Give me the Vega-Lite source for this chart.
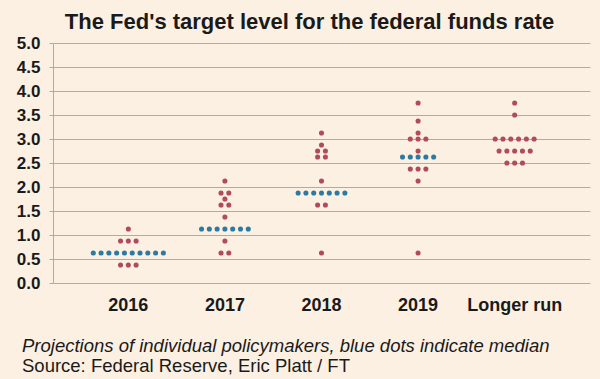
{
  "$schema": "https://vega.github.io/schema/vega-lite/v6.json",
  "autosize": "none",
  "width": 537,
  "height": 240,
  "padding": {"left": 53, "top": 43, "right": 10, "bottom": 96},
  "background": "#fcf0e2",
  "config": {
    "view": {"stroke": null},
    "font": "Liberation Sans",
    "axis": {"labelColor": "#1a1a1a", "titleColor": "#1a1a1a"},
    "title": {"color": "#1a1a1a", "subtitleColor": "#1a1a1a"}
  },
  "title": {
    "text": "Projections of individual policymakers, blue dots indicate median",
    "subtitle": "Source: Federal Reserve, Eric Platt / FT",
    "orient": "bottom",
    "anchor": "start",
    "frame": "group",
    "dx": -31,
    "offset": 23,
    "fontSize": 18.5,
    "fontStyle": "italic",
    "fontWeight": "normal",
    "subtitleFontSize": 18.5,
    "subtitleFontStyle": "normal",
    "subtitlePadding": 1
  },
  "data": {
    "values": [
      {"period": "2016", "rate": 1.125, "type": "Individual"},
      {"period": "2016", "rate": 0.875, "type": "Individual"},
      {"period": "2016", "rate": 0.875, "type": "Individual"},
      {"period": "2016", "rate": 0.875, "type": "Individual"},
      {"period": "2016", "rate": 0.625, "type": "Median"},
      {"period": "2016", "rate": 0.625, "type": "Median"},
      {"period": "2016", "rate": 0.625, "type": "Median"},
      {"period": "2016", "rate": 0.625, "type": "Median"},
      {"period": "2016", "rate": 0.625, "type": "Median"},
      {"period": "2016", "rate": 0.625, "type": "Median"},
      {"period": "2016", "rate": 0.625, "type": "Median"},
      {"period": "2016", "rate": 0.625, "type": "Median"},
      {"period": "2016", "rate": 0.625, "type": "Median"},
      {"period": "2016", "rate": 0.625, "type": "Median"},
      {"period": "2016", "rate": 0.375, "type": "Individual"},
      {"period": "2016", "rate": 0.375, "type": "Individual"},
      {"period": "2016", "rate": 0.375, "type": "Individual"},

      {"period": "2017", "rate": 2.125, "type": "Individual"},
      {"period": "2017", "rate": 1.875, "type": "Individual"},
      {"period": "2017", "rate": 1.875, "type": "Individual"},
      {"period": "2017", "rate": 1.75, "type": "Individual"},
      {"period": "2017", "rate": 1.625, "type": "Individual"},
      {"period": "2017", "rate": 1.625, "type": "Individual"},
      {"period": "2017", "rate": 1.375, "type": "Individual"},
      {"period": "2017", "rate": 1.125, "type": "Median"},
      {"period": "2017", "rate": 1.125, "type": "Median"},
      {"period": "2017", "rate": 1.125, "type": "Median"},
      {"period": "2017", "rate": 1.125, "type": "Median"},
      {"period": "2017", "rate": 1.125, "type": "Median"},
      {"period": "2017", "rate": 1.125, "type": "Median"},
      {"period": "2017", "rate": 1.125, "type": "Median"},
      {"period": "2017", "rate": 0.875, "type": "Individual"},
      {"period": "2017", "rate": 0.625, "type": "Individual"},
      {"period": "2017", "rate": 0.625, "type": "Individual"},

      {"period": "2018", "rate": 3.125, "type": "Individual"},
      {"period": "2018", "rate": 2.875, "type": "Individual"},
      {"period": "2018", "rate": 2.75, "type": "Individual"},
      {"period": "2018", "rate": 2.75, "type": "Individual"},
      {"period": "2018", "rate": 2.625, "type": "Individual"},
      {"period": "2018", "rate": 2.625, "type": "Individual"},
      {"period": "2018", "rate": 2.125, "type": "Individual"},
      {"period": "2018", "rate": 1.875, "type": "Median"},
      {"period": "2018", "rate": 1.875, "type": "Median"},
      {"period": "2018", "rate": 1.875, "type": "Median"},
      {"period": "2018", "rate": 1.875, "type": "Median"},
      {"period": "2018", "rate": 1.875, "type": "Median"},
      {"period": "2018", "rate": 1.875, "type": "Median"},
      {"period": "2018", "rate": 1.875, "type": "Median"},
      {"period": "2018", "rate": 1.625, "type": "Individual"},
      {"period": "2018", "rate": 1.625, "type": "Individual"},
      {"period": "2018", "rate": 0.625, "type": "Individual"},

      {"period": "2019", "rate": 3.75, "type": "Individual"},
      {"period": "2019", "rate": 3.375, "type": "Individual"},
      {"period": "2019", "rate": 3.125, "type": "Individual"},
      {"period": "2019", "rate": 3.0, "type": "Individual"},
      {"period": "2019", "rate": 3.0, "type": "Individual"},
      {"period": "2019", "rate": 3.0, "type": "Individual"},
      {"period": "2019", "rate": 2.75, "type": "Individual"},
      {"period": "2019", "rate": 2.625, "type": "Median"},
      {"period": "2019", "rate": 2.625, "type": "Median"},
      {"period": "2019", "rate": 2.625, "type": "Median"},
      {"period": "2019", "rate": 2.625, "type": "Median"},
      {"period": "2019", "rate": 2.625, "type": "Median"},
      {"period": "2019", "rate": 2.375, "type": "Individual"},
      {"period": "2019", "rate": 2.375, "type": "Individual"},
      {"period": "2019", "rate": 2.375, "type": "Individual"},
      {"period": "2019", "rate": 2.125, "type": "Individual"},
      {"period": "2019", "rate": 0.625, "type": "Individual"},

      {"period": "Longer run", "rate": 3.75, "type": "Individual"},
      {"period": "Longer run", "rate": 3.5, "type": "Individual"},
      {"period": "Longer run", "rate": 3.0, "type": "Individual"},
      {"period": "Longer run", "rate": 3.0, "type": "Individual"},
      {"period": "Longer run", "rate": 3.0, "type": "Individual"},
      {"period": "Longer run", "rate": 3.0, "type": "Individual"},
      {"period": "Longer run", "rate": 3.0, "type": "Individual"},
      {"period": "Longer run", "rate": 3.0, "type": "Individual"},
      {"period": "Longer run", "rate": 2.75, "type": "Individual"},
      {"period": "Longer run", "rate": 2.75, "type": "Individual"},
      {"period": "Longer run", "rate": 2.75, "type": "Individual"},
      {"period": "Longer run", "rate": 2.75, "type": "Individual"},
      {"period": "Longer run", "rate": 2.75, "type": "Individual"},
      {"period": "Longer run", "rate": 2.5, "type": "Individual"},
      {"period": "Longer run", "rate": 2.5, "type": "Individual"},
      {"period": "Longer run", "rate": 2.5, "type": "Individual"}
    ]
  },
  "transform": [
    {"window": [{"op": "row_number", "as": "idx"}], "groupby": ["period", "rate"]},
    {"joinaggregate": [{"op": "count", "as": "n"}], "groupby": ["period", "rate"]},
    {"calculate": "datum.idx - (datum.n + 1) / 2", "as": "off"}
  ],
  "encoding": {
    "x": {
      "field": "period",
      "type": "nominal",
      "scale": {"paddingInner": 0, "paddingOuter": 0.28}
    },
    "xOffset": {
      "field": "off",
      "type": "quantitative",
      "scale": {"domain": [-6.2, 6.2]}
    },
    "y": {
      "field": "rate",
      "type": "quantitative",
      "scale": {"domain": [0, 5], "nice": false, "zero": true},
      "axis": {
        "values": [0, 0.5, 1, 1.5, 2, 2.5, 3, 3.5, 4, 4.5, 5],
        "format": ".1f",
        "title": null,
        "grid": true,
        "gridColor": "#b5aa9b",
        "gridWidth": 1,
        "gridOpacity": 1,
        "domainColor": "#b5aa9b",
        "tickColor": "#b5aa9b",
        "tickSize": 4,
        "labelFontSize": 17,
        "labelFontWeight": "bold",
        "labelPadding": 9
      }
    }
  },
  "layer": [
    {
      "transform": [{"filter": "datum.type == 'Individual'"}],
      "mark": {"type": "point", "filled": true, "opacity": 1, "size": 26, "color": "#b04a5c"},
      "encoding": {
        "x": {
          "field": "period",
          "type": "nominal",
          "axis": {
            "orient": "bottom",
            "title": null,
            "labelAngle": 0,
            "ticks": false,
            "domain": false,
            "labelFontSize": 18,
            "labelFontWeight": "bold",
            "labelPadding": 13
          }
        }
      }
    },
    {
      "transform": [{"filter": "datum.type == 'Median'"}],
      "mark": {"type": "point", "filled": true, "opacity": 1, "size": 26, "color": "#2b7aa3"},
      "encoding": {
        "x": {
          "field": "period",
          "type": "nominal",
          "axis": {
            "orient": "top",
            "labels": false,
            "ticks": false,
            "domain": false,
            "title": "The Fed's target level for the federal funds rate",
            "titleFontSize": 22,
            "titleFontWeight": "bold",
            "titleX": 256,
            "titleAlign": "center",
            "titlePadding": 10
          }
        }
      }
    }
  ],
  "resolve": {"axis": {"x": "independent"}}
}
